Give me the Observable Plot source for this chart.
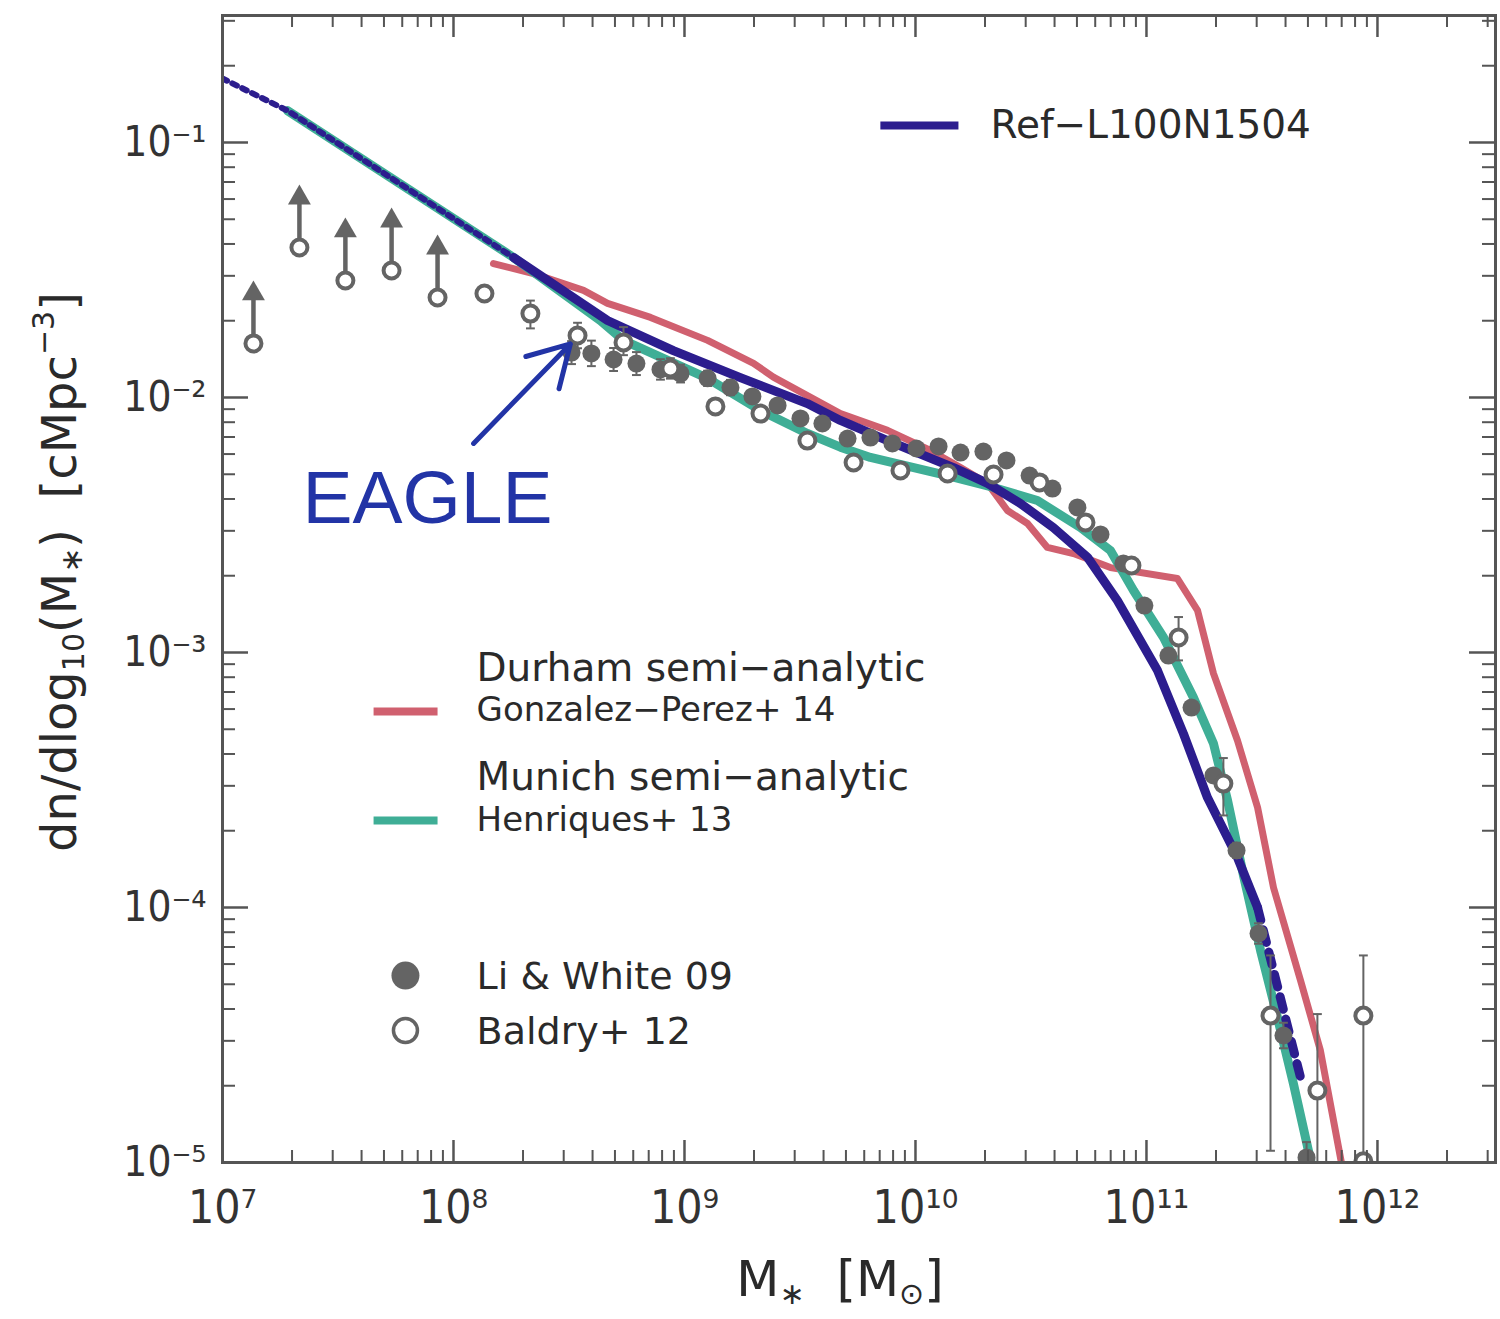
<!DOCTYPE html>
<html><head><meta charset="utf-8">
<script src="https://cdn.jsdelivr.net/npm/d3@7"></script>
<script src="https://cdn.jsdelivr.net/npm/@observablehq/plot@0.6"></script>
<style>body{margin:0;background:#fff;}</style>
</head><body><div id="chart"></div>
<script>
// ---------- data (log10 M*, log10 dn/dlogM) ----------
const eagleDotLogM   = [7.00, 7.281, 8.26];
const eagleDotLogPhi = [-0.749, -0.875, -1.451];
const eagleLogM   = [8.26, 8.667, 8.952, 9.242, 9.532, 9.675, 9.879, 10.165, 10.312, 10.455, 10.597, 10.745, 10.874, 11.048, 11.16, 11.264, 11.394, 11.481];
const eagleLogPhi = [-1.451, -1.698, -1.816, -1.922, -2.024, -2.090, -2.169, -2.275, -2.337, -2.416, -2.510, -2.627, -2.796, -3.071, -3.318, -3.569, -3.804, -4.0];
const eagleDashLogM   = [11.481, 11.667];
const eagleDashLogPhi = [-4.0, -4.667];

const henLogM   = [7.281, 8.26, 8.636, 8.736, 9.100, 9.329, 9.532, 9.675, 9.805, 10.139, 10.338, 10.528, 10.714, 10.844, 10.944, 11.074, 11.203, 11.290, 11.351, 11.420, 11.494, 11.567, 11.636, 11.720];
const henLogPhi = [-0.875, -1.451, -1.698, -1.776, -1.925, -2.051, -2.141, -2.195, -2.235, -2.306, -2.353, -2.404, -2.510, -2.600, -2.757, -2.941, -3.176, -3.357, -3.580, -3.875, -4.169, -4.431, -4.690, -5.03];

const gpLogM   = [8.173, 8.346, 8.563, 8.667, 8.853, 9.100, 9.299, 9.385, 9.675, 9.879, 10.065, 10.195, 10.312, 10.398, 10.485, 10.571, 10.684, 10.844, 11.134, 11.221, 11.290, 11.394, 11.481, 11.550, 11.667, 11.753, 11.850];
const gpLogPhi = [-1.475, -1.514, -1.580, -1.631, -1.686, -1.776, -1.866, -1.920, -2.063, -2.129, -2.208, -2.275, -2.337, -2.443, -2.494, -2.588, -2.612, -2.667, -2.710, -2.835, -3.082, -3.345, -3.608, -3.922, -4.286, -4.561, -5.03];

const lwLogM   = [8.511, 8.597, 8.693, 8.792, 8.896, 8.983, 9.100, 9.199, 9.294, 9.403, 9.502, 9.597, 9.706, 9.805, 9.900, 10.004, 10.100, 10.195, 10.294, 10.394, 10.494, 10.593, 10.701, 10.801, 10.900, 10.991, 11.095, 11.195, 11.290, 11.390, 11.485, 11.593, 11.693];
const lwLogPhi = [-1.824, -1.827, -1.851, -1.867, -1.890, -1.906, -1.925, -1.961, -1.996, -2.031, -2.082, -2.102, -2.161, -2.157, -2.180, -2.200, -2.192, -2.216, -2.212, -2.247, -2.306, -2.357, -2.431, -2.537, -2.651, -2.816, -3.012, -3.216, -3.482, -3.776, -4.102, -4.502, -4.980];
const lwErrDex = [0.045, 0.05, 0.045, 0.045, 0.04, 0.035, 0.03, 0.03, 0.025, 0.02, 0.02, 0.02, 0.02, 0.02, 0.02, 0.02, 0.02, 0.02, 0.02, 0.02, 0.02, 0.02, 0.02, 0.02, 0.02, 0.02, 0.02, 0.02, 0.02, 0.03, 0.04, 0.05, 0.06];

const baLogM   = [7.134, 7.333, 7.532, 7.732, 7.931, 8.134, 8.333, 8.537, 8.736, 8.939, 9.134, 9.329, 9.532, 9.732, 9.935, 10.139, 10.338, 10.537, 10.736, 10.935, 11.139, 11.333, 11.537, 11.740, 11.939, 11.939];
const baLogPhi = [-1.788, -1.412, -1.541, -1.502, -1.608, -1.592, -1.671, -1.757, -1.784, -1.886, -2.035, -2.063, -2.169, -2.255, -2.286, -2.298, -2.302, -2.333, -2.490, -2.659, -2.941, -3.514, -4.424, -4.718, -4.424, -4.995];
const baErrLo  = [0, 0, 0, 0, 0, 0.02, 0.058, 0.05, 0.05, 0.04, 0.02, 0.02, 0.02, 0.02, 0.02, 0.02, 0.02, 0.02, 0.02, 0.03, 0.09, 0.125, 0.53, 0.9, 0.9, 0];
const baErrHi  = [0, 0, 0, 0, 0, 0.02, 0.051, 0.05, 0.06, 0.04, 0.02, 0.02, 0.02, 0.02, 0.02, 0.02, 0.02, 0.02, 0.02, 0.03, 0.08, 0.10, 0.236, 0.30, 0.236, 0];
const baLimitCount = 5;   // first points are lower limits (arrows)

const xTickValues = [1e7, 1e8, 1e9, 1e10, 1e11, 1e12];
const yTickValues = [1e-5, 1e-4, 1e-3, 1e-2, 1e-1];

const C = {eagle: "#2c1d8e", hen: "#3fae96", gp: "#d0606f", obs: "#646464", anno: "#2234a6", axis: "#555555", text: "#2a2a2a"};

// ---------- build tables ----------
const toPts = (lm, lp) => lm.map((m, i) => ({x: 10 ** m, y: 10 ** lp[i]}));
const eagleDot = toPts(eagleDotLogM, eagleDotLogPhi);
const eagle = toPts(eagleLogM, eagleLogPhi);
const eagleDash = toPts(eagleDashLogM, eagleDashLogPhi);
const hen = toPts(henLogM, henLogPhi);
const gp = toPts(gpLogM, gpLogPhi);
const lw = lwLogM.map((m, i) => ({x: 10 ** m, y: 10 ** lwLogPhi[i], y1: 10 ** (lwLogPhi[i] - lwErrDex[i]), y2: 10 ** (lwLogPhi[i] + lwErrDex[i])}));
const ba = baLogM.map((m, i) => ({x: 10 ** m, y: 10 ** baLogPhi[i], y1: 10 ** (baLogPhi[i] - baErrLo[i]), y2: 10 ** (baLogPhi[i] + baErrHi[i]), limit: i < baLimitCount}));
const baErr = ba.filter(d => d.y2 > d.y1);
const baLim = ba.filter(d => d.limit);

// annotation + legend (data coordinates)
const eagleArrow = [{x1: 10 ** 8.087, y1: 10 ** -2.180, x2: 10 ** 8.506, y2: 10 ** -1.790}];
const eagleLabel = [{x: 10 ** 7.346, y: 10 ** -2.40, text: "EAGLE"}];
const legendLines = [
  {x1: 10 ** 9.848, x2: 10 ** 10.186, y: 10 ** -0.933, c: C.eagle},
  {x1: 10 ** 7.654, x2: 10 ** 7.931, y: 10 ** -3.231, c: C.gp},
  {x1: 10 ** 7.654, x2: 10 ** 7.931, y: 10 ** -3.659, c: C.hen}
];
const legendText = [
  {x: 10 ** 10.325, y: 10 ** -0.933, text: "Ref\u2212L100N1504", s: 39},
  {x: 10 ** 8.100, y: 10 ** -3.063, text: "Durham semi\u2212analytic", s: 39},
  {x: 10 ** 8.100, y: 10 ** -3.227, text: "Gonzalez\u2212Perez+ 14", s: 34},
  {x: 10 ** 8.100, y: 10 ** -3.490, text: "Munich semi\u2212analytic", s: 39},
  {x: 10 ** 8.100, y: 10 ** -3.659, text: "Henriques+ 13", s: 34},
  {x: 10 ** 8.100, y: 10 ** -4.271, text: "Li & White 09", s: 38},
  {x: 10 ** 8.100, y: 10 ** -4.486, text: "Baldry+ 12", s: 38}
];
const legendFilled = [{x: 10 ** 7.792, y: 10 ** -4.267}];
const legendOpen = [{x: 10 ** 7.792, y: 10 ** -4.482}];

// ticks
const minorX = [], minorY = [];
for (let e = 7; e <= 12; e++) for (let k = 2; k <= 9; k++) { const v = k * 10 ** e; if (v < 10 ** 12.51) minorX.push(v); }
for (let e = -5; e <= -1; e++) for (let k = 2; k <= 9; k++) { const v = k * 10 ** e; if (v < 10 ** -0.502) minorY.push(v); }

const supMap = {"0":"\u2070","1":"\u00b9","2":"\u00b2","3":"\u00b3","4":"\u2074","5":"\u2075","6":"\u2076","7":"\u2077","8":"\u2078","9":"\u2079","-":"\u207b"};
const fmt = d => "10" + String(Math.round(Math.log10(d))).split("").map(c => supMap[c]).join("");

// ---------- layout ----------
const W = 1500, H = 1319;
const mL = 222, mT = 15, mR = 5, mB = 157;
const fw = W - mL - mR, fh = H - mT - mB;
const FONT = "'DejaVu Sans', sans-serif";
const TICKFONT = "'DejaVu Sans Condensed', 'Liberation Sans Narrow', 'DejaVu Sans', sans-serif";
const capSym = {draw(ctx, size) { const w = Math.sqrt(size) / 2; ctx.moveTo(-w, 0); ctx.lineTo(w, 0); }};

const plot = Plot.plot({
  width: W, height: H,
  marginLeft: mL, marginTop: mT, marginRight: mR, marginBottom: mB,
  style: {background: "#fff", fontFamily: FONT},
  x: {type: "log", domain: [1e7, 10 ** 12.511]},
  y: {type: "log", domain: [1e-5, 10 ** -0.502]},
  marks: [
    Plot.line(gp, {x: "x", y: "y", stroke: C.gp, strokeWidth: 7, clip: true}),
    Plot.line(hen, {x: "x", y: "y", stroke: C.hen, strokeWidth: 9, clip: true}),
    Plot.line(eagleDot, {x: "x", y: "y", stroke: C.eagle, strokeWidth: 6, strokeDasharray: "5,6", clip: true}),
    Plot.line(eagle, {x: "x", y: "y", stroke: C.eagle, strokeWidth: 9, clip: true}),
    Plot.line(eagleDash, {x: "x", y: "y", stroke: C.eagle, strokeWidth: 9, strokeDasharray: "13,10", clip: true}),
    // error bars
    Plot.ruleX(lw, {x: "x", y1: "y1", y2: "y2", stroke: C.obs, strokeWidth: 2, clip: true}),
    Plot.dot(lw, {x: "x", y: "y1", symbol: capSym, r: 5, stroke: C.obs, strokeWidth: 2, clip: true}),
    Plot.dot(lw, {x: "x", y: "y2", symbol: capSym, r: 5, stroke: C.obs, strokeWidth: 2, clip: true}),
    Plot.ruleX(baErr, {x: "x", y1: "y1", y2: "y2", stroke: C.obs, strokeWidth: 2, clip: true}),
    Plot.dot(baErr, {x: "x", y: "y1", symbol: capSym, r: 5, stroke: C.obs, strokeWidth: 2, clip: true}),
    Plot.dot(baErr, {x: "x", y: "y2", symbol: capSym, r: 5, stroke: C.obs, strokeWidth: 2, clip: true}),
    // lower-limit arrows
    Plot.ruleX(baLim, {x: "x", y1: "y", y2: d => d.y * 10 ** 0.17, stroke: C.obs, strokeWidth: 4.5}),
    Plot.dot(baLim, {x: "x", y: d => d.y * 10 ** 0.195, symbol: "triangle", r: 8.5, fill: C.obs}),
    // points
    Plot.dot(lw, {x: "x", y: "y", r: 9, fill: C.obs, clip: true}),
    Plot.dot(ba, {x: "x", y: "y", r: 8, fill: "#fff", stroke: C.obs, strokeWidth: 4, clip: true}),
    // annotation
    Plot.arrow(eagleArrow, {x1: "x1", y1: "y1", x2: "x2", y2: "y2", stroke: C.anno, strokeWidth: 5, headLength: 30}),
    Plot.text(eagleLabel, {x: "x", y: "y", text: "text", fill: C.anno, fontSize: 75, textAnchor: "start", fontFamily: "'Liberation Sans', Arial, sans-serif"}),
    // legend
    Plot.link(legendLines, {x1: "x1", x2: "x2", y1: "y", y2: "y", stroke: "c", strokeWidth: 8}),
    Plot.text(legendText, {x: "x", y: "y", text: "text", fontSize: "s", textAnchor: "start", fill: C.text}),
    Plot.dot(legendFilled, {x: "x", y: "y", r: 14, fill: C.obs}),
    Plot.dot(legendOpen, {x: "x", y: "y", r: 12, fill: "#fff", stroke: C.obs, strokeWidth: 3.5}),
    // inward ticks on all four sides
    Plot.tickX(xTickValues, {x: d => d, insetTop: fh - 22, stroke: C.axis, strokeWidth: 2.5}),
    Plot.tickX(xTickValues, {x: d => d, insetBottom: fh - 22, stroke: C.axis, strokeWidth: 2.5}),
    Plot.tickX(minorX, {x: d => d, insetTop: fh - 12, stroke: C.axis, strokeWidth: 2}),
    Plot.tickX(minorX, {x: d => d, insetBottom: fh - 12, stroke: C.axis, strokeWidth: 2}),
    Plot.tickY(yTickValues, {y: d => d, insetRight: fw - 26, stroke: C.axis, strokeWidth: 2.5}),
    Plot.tickY(yTickValues, {y: d => d, insetLeft: fw - 26, stroke: C.axis, strokeWidth: 2.5}),
    Plot.tickY(minorY, {y: d => d, insetRight: fw - 13, stroke: C.axis, strokeWidth: 2}),
    Plot.tickY(minorY, {y: d => d, insetLeft: fw - 13, stroke: C.axis, strokeWidth: 2}),
    Plot.axisX({ticks: xTickValues, tickSize: 0, tickPadding: 28, tickFormat: fmt, fontSize: 46, fontFamily: TICKFONT, fill: "#333", label: null}),
    Plot.axisY({ticks: yTickValues, tickSize: 0, tickPadding: 16, tickFormat: fmt, fontSize: 42, fontFamily: TICKFONT, fill: "#333", label: null}),
    Plot.frame({stroke: C.axis, strokeWidth: 3})
  ]
});

const svg = d3.select(plot);
// y axis label
const yl = svg.append("text")
  .attr("transform", "translate(63,572) rotate(-90)")
  .attr("text-anchor", "middle").attr("dominant-baseline", "middle")
  .attr("font-size", 48).attr("font-family", FONT).attr("fill", "#2a2a2a");
yl.append("tspan").text("dn/dlog");
yl.append("tspan").attr("font-size", 30).attr("dy", 12).text("10");
yl.append("tspan").attr("dy", -12).text("(M");
yl.append("tspan").attr("font-size", 30).attr("dy", 10).text("\u2217");
yl.append("tspan").attr("dy", -10).text(")  [cMpc");
yl.append("tspan").attr("font-size", 30).attr("dy", -18).text("\u22123");
yl.append("tspan").attr("dy", 18).text("]");
// x axis label
const xl = svg.append("text")
  .attr("x", 840).attr("y", 1296)
  .attr("text-anchor", "middle")
  .attr("font-size", 50).attr("font-family", FONT).attr("fill", "#2a2a2a");
xl.append("tspan").text("M");
xl.append("tspan").attr("font-size", 30).attr("dy", 8).text("\u2217");
xl.append("tspan").attr("dy", -8).text("  [M");
xl.append("tspan").attr("font-size", 30).attr("dy", 8).text("\u2299");
xl.append("tspan").attr("dy", -8).text("]");

document.getElementById("chart").appendChild(plot);
</script></body></html>
